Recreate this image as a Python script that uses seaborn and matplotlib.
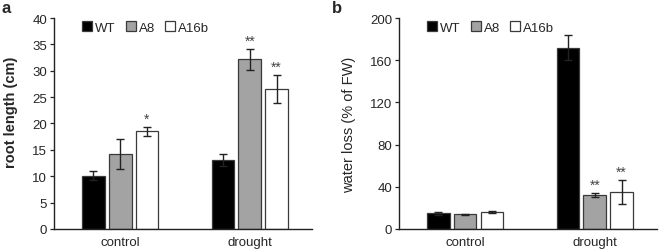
import numpy as np
import pandas as pd
import matplotlib
matplotlib.use("Agg")
import matplotlib.pyplot as plt
import seaborn as sns

conditions = ["control", "drought"]
lines = ["WT", "A8", "A16b"]

# root length (cm), order: WT, A8, A16b per condition
root_control = [10.1, 14.2, 18.5]
root_control_err = [0.9, 2.8, 0.8]
root_drought = [13.1, 32.2, 26.5]
root_drought_err = [1.2, 2.0, 2.7]
root_marks = {("control", "A16b"): "*", ("drought", "A8"): "**", ("drought", "A16b"): "**"}

# water loss (% of FW)
water_control = [15.0, 14.0, 16.0]
water_control_err = [1.5, 0.6, 1.0]
water_drought = [172.0, 32.0, 35.0]
water_drought_err = [11.5, 2.0, 11.5]
water_marks = {("drought", "A8"): "**", ("drought", "A16b"): "**"}

sns.set_style("white")
plt.rcParams["font.family"] = ["Liberation Sans", "DejaVu Sans"]
plt.rcParams["font.size"] = 9.5

colors = ["#000000", "#a3a3a3", "#ffffff"]


def make_df(ctrl, ctrl_err, drought, drought_err):
    rows = []
    for cond, vals, errs in [("control", ctrl, ctrl_err), ("drought", drought, drought_err)]:
        for ln, v, e in zip(lines, vals, errs):
            rows.append({"condition": cond, "line": ln, "value": v, "err": e})
    return pd.DataFrame(rows)


def draw(ax, df, marks, ylim, yticks, ylabel, bold, star_off, label_xy):
    sns.barplot(data=df, x="condition", y="value", hue="line", order=conditions,
                hue_order=lines, palette=colors, errorbar=None, width=0.62, gap=0.15,
                edgecolor="#3a3a3a", linewidth=0.9, ax=ax)
    # error bars + significance stars, placed on the bars seaborn drew
    for i, ln in enumerate(lines):
        cont = ax.containers[i]
        for j, cond in enumerate(conditions):
            bar = cont.patches[j]
            row = df[(df.condition == cond) & (df.line == ln)].iloc[0]
            xc = bar.get_x() + bar.get_width() / 2
            ax.errorbar(xc, row.value, yerr=row.err, color="#222222", lw=1.0,
                        capsize=3, capthick=1.0, zorder=5)
            if (cond, ln) in marks:
                ax.text(xc, row.value + row.err + star_off, marks[(cond, ln)],
                        ha="center", va="bottom", fontsize=10, color="#444444")
    ax.set_xlim(-0.51, 1.48)
    ax.set_ylim(*ylim)
    ax.set_yticks(yticks)
    ax.set_xlabel("")
    ax.set_ylabel(ylabel, fontweight="bold" if bold else "normal", fontsize=10.5)
    ax.yaxis.set_label_coords(*label_xy)
    sns.despine(ax=ax)
    for s in ["left", "bottom"]:
        ax.spines[s].set_linewidth(1.0)
        ax.spines[s].set_color("#222222")
    ax.tick_params(axis="y", length=3, width=0.9, direction="out", left=True, labelsize=9.5, pad=2)
    ax.tick_params(axis="x", length=0, labelsize=9.5, pad=5)
    ax.legend(loc="upper left", bbox_to_anchor=(0.09, 1.01), ncol=3, frameon=False,
              handlelength=0.75, handleheight=0.75, handletextpad=0.2,
              columnspacing=0.8, fontsize=9.5, borderaxespad=0)


fig = plt.figure(figsize=(6.6, 2.51), dpi=100)
ax1 = fig.add_axes([0.0818, 0.0837, 0.391, 0.8406])
ax2 = fig.add_axes([0.6045, 0.0837, 0.391, 0.8406])

draw(ax1, make_df(root_control, root_control_err, root_drought, root_drought_err),
     root_marks, (0, 40), range(0, 41, 5), "root length (cm)", True, 0.2, (-0.14, 0.556))
draw(ax2, make_df(water_control, water_control_err, water_drought, water_drought_err),
     water_marks, (0, 200), range(0, 201, 40), "water loss (% of FW)", False, 1.0, (-0.165, 0.5))

fig.text(0.003, 0.995, "a", fontweight="bold", fontsize=12, va="top", ha="left")
fig.text(0.503, 0.995, "b", fontweight="bold", fontsize=12, va="top", ha="left")

fig.savefig("out.png", dpi=100)
